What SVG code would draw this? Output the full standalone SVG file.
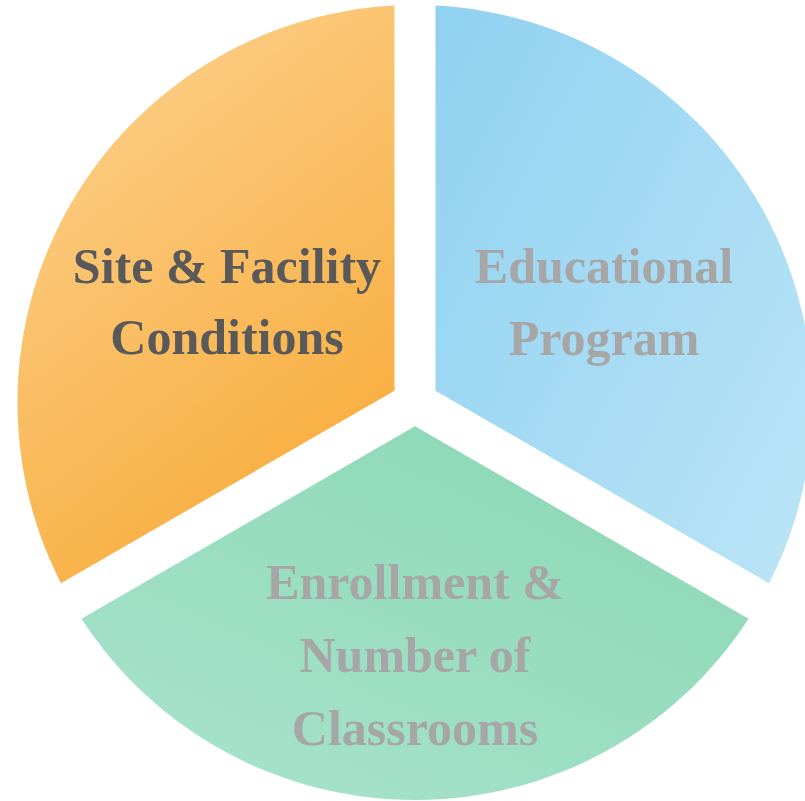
<svg xmlns="http://www.w3.org/2000/svg" width="805" height="801" viewBox="0 0 805 801">
  <defs>
    <linearGradient id="gOrange" x1="0.25" y1="0" x2="0.75" y2="1">
      <stop offset="0" stop-color="#FCD08C"/>
      <stop offset="1" stop-color="#F8AA36"/>
    </linearGradient>
    <linearGradient id="gBlue" x1="0" y1="0.1" x2="1" y2="0.9">
      <stop offset="0" stop-color="#92D2F1"/>
      <stop offset="1" stop-color="#B9E4F6"/>
    </linearGradient>
    <linearGradient id="gGreen" x1="0.9" y1="0" x2="0.1" y2="1">
      <stop offset="0" stop-color="#8AD7B3"/>
      <stop offset="1" stop-color="#A8E3CD"/>
    </linearGradient>
    <style>
      .lbl { font-family: "Liberation Serif", "Times New Roman", serif; font-weight: bold; font-size: 50px; text-anchor: middle; }
      .dark { fill: #595959; }
      .light { fill: #A6A6A6; }
    </style>
  </defs>
  <rect width="805" height="801" fill="#FFFFFF"/>
  <g id="site-facility">
    <path d="M 394.5 390.66 L 394.5 5.53 A 397.5 397.5 0 0 0 60.97 583.24 Z" fill="url(#gOrange)"/>
    <text class="lbl dark" x="227" y="283">Site &amp; Facility</text>
    <text class="lbl dark" x="227" y="354">Conditions</text>
  </g>
  <g id="educational-program">
    <path d="M 435.5 390.66 L 435.5 5.53 A 397.5 397.5 0 0 1 769.03 583.24 Z" fill="url(#gBlue)"/>
    <text class="lbl light" x="604" y="283">Educational</text>
    <text class="lbl light" x="604" y="355">Program</text>
  </g>
  <g id="enrollment">
    <path d="M 415 426.17 L 748.53 618.74 A 397.5 397.5 0 0 1 81.47 618.74 Z" fill="url(#gGreen)"/>
    <text class="lbl light" x="415" y="599">Enrollment &amp;</text>
    <text class="lbl light" x="415" y="672">Number of</text>
    <text class="lbl light" x="415" y="745">Classrooms</text>
  </g>
  <g id="connectors"/>
</svg>
